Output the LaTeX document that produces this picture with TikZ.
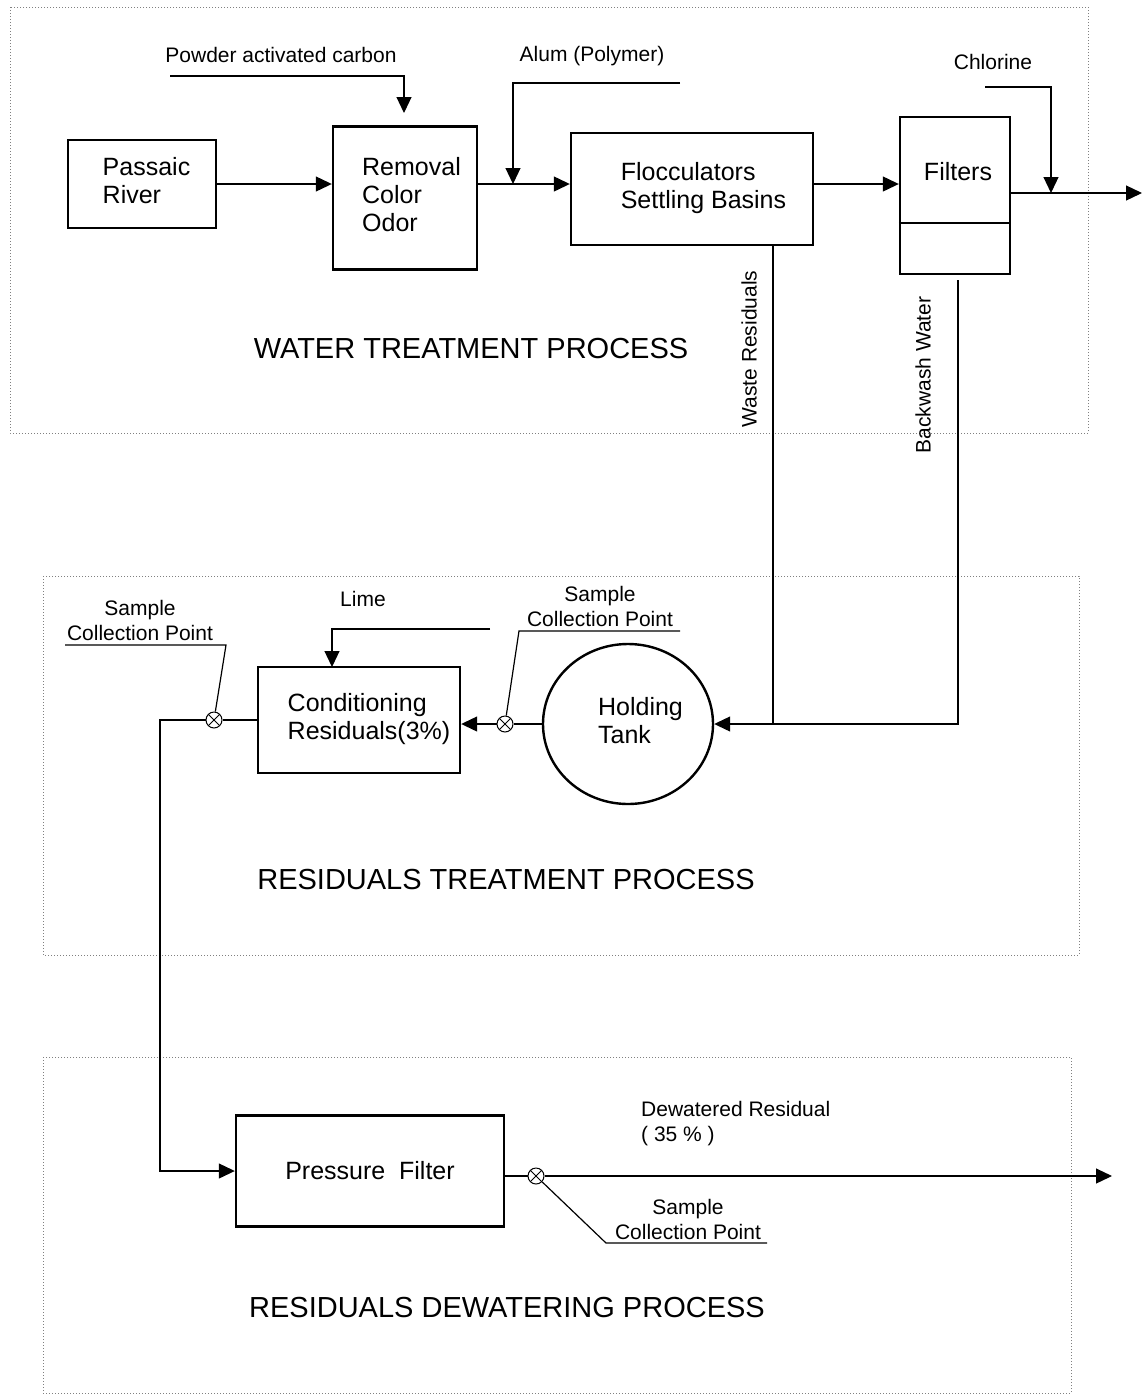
\documentclass[tikz,border=0pt]{standalone}
\usepackage{fontspec}
\setmainfont{Liberation Sans}
\usetikzlibrary{arrows.meta,shapes.geometric}
\newcommand\bxfont{\fontsize{25}{28}\selectfont}
\newcommand\lblfont{\fontsize{21}{25}\selectfont}
\newcommand\ttlfont{\fontsize{29}{32}\selectfont}
% left-aligned text block with extra room on its left
\newcommand\padl[2]{\begin{tabular}{@{\hspace{#1pt}}l@{}}#2\end{tabular}}
\begin{document}
\begin{tikzpicture}[x=1pt,y=-1pt,
  frame/.style={draw=black!50, line width=0.9pt, dash pattern=on 1pt off 2pt},
  box/.style={draw, line width=2.4pt, font=\bxfont, inner sep=0pt},
  bxtext/.style={font=\bxfont, inner sep=0pt},
  tank/.style={draw, ellipse, line width=2.4pt, minimum width=170, minimum height=160,
    inner sep=0pt, font=\bxfont},
  lbl/.style={font=\lblfont, align=center, inner sep=0pt},
  ttl/.style={font=\ttlfont, inner sep=0pt},
  line/.style={line width=1.2pt},
  flow/.style={line, -{Triangle[length=16pt,width=15pt]}},
  spoint/.style={circle, draw, line width=1pt, minimum size=16, inner sep=0pt, fill=white,
    path picture={\draw[line width=0.8pt]
      (path picture bounding box.north west) -- (path picture bounding box.south east)
      (path picture bounding box.north east) -- (path picture bounding box.south west);}}
]
\useasboundingbox (0,0) rectangle (1142,1398);

% process frames
\draw[frame] (10,7) rectangle (1088,433);
\draw[frame] (43,576) rectangle (1079,955);
\draw[frame] (43,1057) rectangle (1071,1393);

% ---------- water treatment ----------
\node[box, minimum width=148, minimum height=88] (river) at (142,184) {\padl{9}{Passaic\\River}};
\node[box, minimum width=144, minimum height=143] (removal) at (405,198) {\padl{13}{Removal\\Color\\Odor}};
\node[box, minimum width=242, minimum height=112] (flocc) at (692,189) {\padl{23}{Flocculators\\Settling Basins}};
\node[box, minimum width=110, minimum height=157] (filters) at (955,195.5) {};
\node[bxtext] (filterstxt) at (958,172) {Filters};
\coordinate (fdiv) at (0,223);
\draw[line width=2pt] (filters.west |- fdiv) -- (filters.east |- fdiv);

\node[lbl] (pac) at (281,55) {Powder activated carbon};
\node[lbl] (alum) at (592,56) {Alum (Polymer)};
\node[lbl] (cl) at (993,62) {Chlorine};

\draw[flow] (river.east) -- (river.east -| removal.west);
\draw[flow] (removal.east |- river.east) -- (flocc.west |- river.east);
\draw[flow] (flocc.east |- river.east) -- (filters.west |- river.east);
\coordinate (out1) at (1142,193);
\draw[flow] (filters.east |- out1) -- (out1);

\coordinate (pacfeed) at (170,76);
\coordinate (pacin) at (404,113);
\draw[flow] (pacfeed) -| (pacin);
\coordinate (alumfeed) at (680,83);
\coordinate (alumjoin) at (513,184);
\draw[flow] (alumfeed) -| (alumjoin);
\coordinate (clfeed) at (985,87);
\coordinate (cljoin) at (1051,193);
\draw[flow] (clfeed) -| (cljoin);

\node[ttl] (t1) at (471,349) {WATER TREATMENT PROCESS};
\node[lbl, rotate=90] (wr) at (749,349) {Waste Residuals};
\node[lbl, rotate=90] (bw) at (923,375) {Backwash Water};

% ---------- residuals treatment ----------
\node[tank] (tank) at (628,724) {\padl{25}{Holding\\Tank}};
\node[box, minimum width=202, minimum height=106] (cond) at (359,720) {\padl{20}{Conditioning\\Residuals(3\%)}};
\node[spoint] (sp1) at (214,720) {};
\node[spoint] (sp2) at (505,724) {};

\coordinate (wjoin) at (773,724);
\draw[line] (flocc.south -| wjoin) -- (wjoin);
\coordinate (bwtop) at (958,280);
\draw[flow] (bwtop) |- (tank.east);

\draw[line] (tank.west) -- (sp2);
\draw[flow] (sp2) -- (sp2 -| cond.east);

\node[lbl] (lime) at (363,599) {Lime};
\coordinate (limefeed) at (490,629);
\coordinate (limein) at (332,667);
\draw[flow] (limefeed) -| (limein);

\node[lbl] (sp2lbl) at (600,606) {Sample\\Collection Point};
\coordinate (u2a) at (519,631);
\coordinate (u2b) at (680,631);
\draw[line] (u2b) -- (u2a) -- (sp2);

\node[lbl] (sp1lbl) at (140,620) {Sample\\Collection Point};
\coordinate (u1a) at (65,645);
\coordinate (u1b) at (226,645);
\draw[line] (u1a) -- (u1b) -- (sp1);

\node[ttl] (t2) at (506,880) {RESIDUALS TREATMENT PROCESS};

% ---------- residuals dewatering ----------
\node[box, minimum width=268, minimum height=111] (pf) at (370,1171) {Pressure\ \ Filter};
\node[spoint] (sp3) at (536,1176) {};

\draw[line] (cond.west) -- (sp1);
\coordinate (bend1) at (160,720);
\draw[flow] (sp1) -- (bend1) |- (pf.west);

\draw[line] (pf.east |- sp3) -- (sp3);
\coordinate (out3) at (1112,1176);
\draw[flow] (sp3) -- (out3);

\node[lbl, align=left, anchor=west] (dew) at (641,1124) {Dewatered Residual\\( 35 \% )};

\node[lbl] (sp3lbl) at (688,1219) {Sample\\Collection Point};
\coordinate (u3a) at (606,1243);
\coordinate (u3b) at (767,1243);
\draw[line] (sp3) -- (u3a) -- (u3b);

\node[ttl] (t3) at (507,1307) {RESIDUALS DEWATERING PROCESS};
\end{tikzpicture}
\end{document}
